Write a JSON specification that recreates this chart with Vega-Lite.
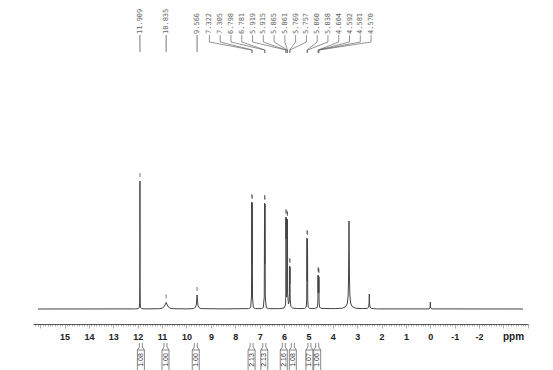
{
  "$schema": "https://vega.github.io/schema/vega-lite/v6.json",
  "width": 495,
  "height": 324,
  "autosize": {"type": "none"},
  "padding": {"left": 33, "right": 25, "top": 0, "bottom": 46},
  "background": "white",
  "config": {"view": {"stroke": null}},
  "datasets": {
    "spec": [
      {"ppm": 16.09, "i": 0}, {"ppm": 12.1, "i": 0.1}, {"ppm": 11.98, "i": 0.4}, {"ppm": 11.94, "i": 1.2},
      {"ppm": 11.922, "i": 5}, {"ppm": 11.914, "i": 25}, {"ppm": 11.909, "i": 128}, {"ppm": 11.904, "i": 25},
      {"ppm": 11.896, "i": 5}, {"ppm": 11.878, "i": 1.2}, {"ppm": 11.84, "i": 0.4}, {"ppm": 11.7, "i": 0.1},
      {"ppm": 11.1, "i": 0.3}, {"ppm": 11.0, "i": 0.8}, {"ppm": 10.93, "i": 2}, {"ppm": 10.88, "i": 4},
      {"ppm": 10.835, "i": 6.5}, {"ppm": 10.79, "i": 4}, {"ppm": 10.74, "i": 2}, {"ppm": 10.67, "i": 0.8},
      {"ppm": 10.55, "i": 0.3}, {"ppm": 10.0, "i": 0.1}, {"ppm": 9.72, "i": 0.4}, {"ppm": 9.64, "i": 1.5},
      {"ppm": 9.6, "i": 4}, {"ppm": 9.58, "i": 9}, {"ppm": 9.566, "i": 14}, {"ppm": 9.552, "i": 9},
      {"ppm": 9.532, "i": 4}, {"ppm": 9.49, "i": 1.5}, {"ppm": 9.41, "i": 0.4}, {"ppm": 8.5, "i": 0.1},
      {"ppm": 7.45, "i": 0.4}, {"ppm": 7.37, "i": 1.5}, {"ppm": 7.335, "i": 12}, {"ppm": 7.322, "i": 107},
      {"ppm": 7.314, "i": 45}, {"ppm": 7.305, "i": 106}, {"ppm": 7.292, "i": 12}, {"ppm": 7.26, "i": 1.5},
      {"ppm": 7.18, "i": 0.4}, {"ppm": 6.93, "i": 0.4}, {"ppm": 6.85, "i": 1.5}, {"ppm": 6.811, "i": 12},
      {"ppm": 6.798, "i": 106}, {"ppm": 6.79, "i": 45}, {"ppm": 6.781, "i": 105}, {"ppm": 6.768, "i": 12},
      {"ppm": 6.73, "i": 1.5}, {"ppm": 6.65, "i": 0.4}, {"ppm": 6.2, "i": 0.3}, {"ppm": 6.0, "i": 1},
      {"ppm": 5.94, "i": 4}, {"ppm": 5.926, "i": 15}, {"ppm": 5.919, "i": 92}, {"ppm": 5.917, "i": 70},
      {"ppm": 5.915, "i": 91}, {"ppm": 5.905, "i": 18}, {"ppm": 5.89, "i": 12}, {"ppm": 5.875, "i": 18},
      {"ppm": 5.865, "i": 90}, {"ppm": 5.863, "i": 70}, {"ppm": 5.861, "i": 89}, {"ppm": 5.851, "i": 15},
      {"ppm": 5.82, "i": 5}, {"ppm": 5.79, "i": 7}, {"ppm": 5.778, "i": 14}, {"ppm": 5.769, "i": 43},
      {"ppm": 5.763, "i": 25}, {"ppm": 5.757, "i": 42}, {"ppm": 5.748, "i": 10}, {"ppm": 5.72, "i": 2.5},
      {"ppm": 5.65, "i": 1}, {"ppm": 5.45, "i": 0.4}, {"ppm": 5.15, "i": 0.6}, {"ppm": 5.09, "i": 2},
      {"ppm": 5.07, "i": 9}, {"ppm": 5.06, "i": 71}, {"ppm": 5.049, "i": 28}, {"ppm": 5.038, "i": 70},
      {"ppm": 5.028, "i": 9}, {"ppm": 5.01, "i": 2}, {"ppm": 4.95, "i": 0.6}, {"ppm": 4.75, "i": 0.5},
      {"ppm": 4.64, "i": 1.5}, {"ppm": 4.612, "i": 6}, {"ppm": 4.604, "i": 34}, {"ppm": 4.598, "i": 16},
      {"ppm": 4.592, "i": 33}, {"ppm": 4.587, "i": 16}, {"ppm": 4.581, "i": 33}, {"ppm": 4.575, "i": 16},
      {"ppm": 4.57, "i": 32}, {"ppm": 4.562, "i": 6}, {"ppm": 4.535, "i": 1.5}, {"ppm": 4.45, "i": 0.5},
      {"ppm": 3.9, "i": 0.4}, {"ppm": 3.6, "i": 0.8}, {"ppm": 3.46, "i": 2.5}, {"ppm": 3.4, "i": 6},
      {"ppm": 3.37, "i": 14}, {"ppm": 3.355, "i": 30}, {"ppm": 3.345, "i": 60}, {"ppm": 3.335, "i": 88},
      {"ppm": 3.325, "i": 60}, {"ppm": 3.315, "i": 30}, {"ppm": 3.3, "i": 14}, {"ppm": 3.27, "i": 6},
      {"ppm": 3.21, "i": 2.5}, {"ppm": 3.07, "i": 0.8}, {"ppm": 2.8, "i": 0.4}, {"ppm": 2.58, "i": 0.6},
      {"ppm": 2.53, "i": 2}, {"ppm": 2.512, "i": 6}, {"ppm": 2.503, "i": 15}, {"ppm": 2.494, "i": 6},
      {"ppm": 2.475, "i": 2}, {"ppm": 2.42, "i": 0.6}, {"ppm": 2.2, "i": 0.1}, {"ppm": 0.06, "i": 0.1},
      {"ppm": 0.015, "i": 1}, {"ppm": 0.004, "i": 4}, {"ppm": 0.0, "i": 7}, {"ppm": -0.004, "i": 4},
      {"ppm": -0.015, "i": 1}, {"ppm": -0.06, "i": 0.1}, {"ppm": -3.8, "i": 0}
    ],
    "peaks": [
      {"ppm": 11.909, "pos": 11.909, "h": 128, "g": "s"},
      {"ppm": 10.835, "pos": 10.835, "h": 6.5, "g": "s"},
      {"ppm": 9.566, "pos": 9.566, "h": 14, "g": "s"},
      {"ppm": 7.322, "pos": 9.06, "h": 107, "g": "m"},
      {"ppm": 7.305, "pos": 8.618, "h": 106, "g": "m"},
      {"ppm": 6.798, "pos": 8.176, "h": 106, "g": "m"},
      {"ppm": 6.781, "pos": 7.734, "h": 105, "g": "m"},
      {"ppm": 5.919, "pos": 7.292, "h": 92, "g": "m"},
      {"ppm": 5.915, "pos": 6.85, "h": 91, "g": "m"},
      {"ppm": 5.865, "pos": 6.408, "h": 90, "g": "m"},
      {"ppm": 5.861, "pos": 5.966, "h": 89, "g": "m"},
      {"ppm": 5.769, "pos": 5.525, "h": 43, "g": "m"},
      {"ppm": 5.757, "pos": 5.083, "h": 42, "g": "m"},
      {"ppm": 5.06, "pos": 4.641, "h": 71, "g": "m"},
      {"ppm": 5.038, "pos": 4.199, "h": 70, "g": "m"},
      {"ppm": 4.604, "pos": 3.757, "h": 34, "g": "m"},
      {"ppm": 4.592, "pos": 3.315, "h": 33, "g": "m"},
      {"ppm": 4.581, "pos": 2.873, "h": 33, "g": "m"},
      {"ppm": 4.57, "pos": 2.431, "h": 32, "g": "m"}
    ],
    "integrals": [
      {"pos": 11.87, "v": "1.08"}, {"pos": 10.86, "v": "1.00"}, {"pos": 9.62, "v": "1.00"},
      {"pos": 7.33, "v": "2.13"}, {"pos": 6.81, "v": "2.13"}, {"pos": 6.01, "v": "2.16"},
      {"pos": 5.64, "v": "1.08"}, {"pos": 4.96, "v": "1.07"}, {"pos": 4.64, "v": "1.06"}
    ]
  },
  "layer": [
    {
      "data": {"name": "spec"},
      "mark": {"type": "line", "color": "#444", "strokeWidth": 1, "interpolate": "linear"},
      "encoding": {
        "x": {
          "field": "ppm", "type": "quantitative", "title": "ppm",
          "scale": {"domain": [-3.8, 16.09], "reverse": true, "nice": false, "zero": false},
          "axis": {
            "title": "ppm", "orient": "bottom", "tickCount": 200, "grid": false,
            "labelExpr": "datum.value == round(datum.value) && datum.value <= 15 && datum.value >= -2 ? '' + datum.value : ''",
            "labelOverlap": false, "labelFlush": false,
            "labelFont": "Liberation Sans", "labelFontWeight": "bold", "labelFontSize": 9, "labelColor": "#222",
            "labelPadding": 4,
            "tickSize": {"condition": {"test": "datum.value == round(datum.value)", "value": 4}, "value": 2},
            "tickColor": "#777", "tickWidth": 0.6, "domainColor": "#555", "domainWidth": 1,
            "titleFont": "Liberation Sans", "titleFontWeight": "bold", "titleFontSize": 10, "titleColor": "#222",
            "titleX": 480, "titleY": 15, "titleAlign": "center", "titleBaseline": "alphabetic"
          }
        },
        "y": {"field": "i", "type": "quantitative", "scale": {"domain": [-15, 309], "nice": false, "zero": false}, "axis": null}
      }
    },
    {
      "data": {"name": "peaks"},
      "mark": {"type": "rule", "color": "#555", "strokeWidth": 0.8, "yOffset": -4, "y2Offset": -8},
      "encoding": {
        "x": {"field": "ppm", "type": "quantitative", "title": "ppm", "scale": {"domain": [-3.8, 16.09], "reverse": true, "nice": false, "zero": false}},
        "y": {"field": "h", "type": "quantitative", "scale": {"domain": [-15, 309], "nice": false, "zero": false}, "axis": null},
        "y2": {"field": "h"}
      }
    },
    {
      "data": {"name": "peaks"},
      "mark": {"type": "text", "angle": 270, "align": "left", "baseline": "middle", "font": "DejaVu Sans Mono", "fontSize": 7, "color": "#666"},
      "encoding": {
        "x": {"field": "pos", "type": "quantitative", "title": "ppm", "scale": {"domain": [-3.8, 16.09], "reverse": true, "nice": false, "zero": false}},
        "y": {"datum": 275, "type": "quantitative", "scale": {"domain": [-15, 309], "nice": false, "zero": false}, "axis": null},
        "text": {"field": "ppm", "type": "quantitative", "format": ".3f"}
      }
    },
    {
      "data": {"name": "peaks"},
      "transform": [{"filter": "datum.g == 's'"}],
      "mark": {"type": "rule", "color": "#555", "strokeWidth": 0.8},
      "encoding": {
        "x": {"field": "ppm", "type": "quantitative", "title": "ppm", "scale": {"domain": [-3.8, 16.09], "reverse": true, "nice": false, "zero": false}},
        "y": {"datum": 274, "type": "quantitative", "scale": {"domain": [-15, 309], "nice": false, "zero": false}, "axis": null},
        "y2": {"datum": 257}
      }
    },
    {
      "data": {"name": "peaks"},
      "transform": [{"filter": "datum.g == 'm'"}],
      "mark": {"type": "rule", "color": "#666", "strokeWidth": 0.7},
      "encoding": {
        "x": {"field": "pos", "type": "quantitative", "title": "ppm", "scale": {"domain": [-3.8, 16.09], "reverse": true, "nice": false, "zero": false}},
        "y": {"datum": 274, "type": "quantitative", "scale": {"domain": [-15, 309], "nice": false, "zero": false}, "axis": null},
        "y2": {"datum": 267}
      }
    },
    {
      "data": {"name": "peaks"},
      "transform": [{"filter": "datum.g == 'm'"}],
      "mark": {"type": "rule", "color": "#666", "strokeWidth": 0.7},
      "encoding": {
        "x": {"field": "pos", "type": "quantitative", "title": "ppm", "scale": {"domain": [-3.8, 16.09], "reverse": true, "nice": false, "zero": false}},
        "x2": {"field": "ppm"},
        "y": {"datum": 267, "type": "quantitative", "scale": {"domain": [-15, 309], "nice": false, "zero": false}, "axis": null},
        "y2": {"datum": 259}
      }
    },
    {
      "data": {"name": "peaks"},
      "transform": [{"filter": "datum.g == 'm'"}],
      "mark": {"type": "rule", "color": "#666", "strokeWidth": 0.7},
      "encoding": {
        "x": {"field": "ppm", "type": "quantitative", "title": "ppm", "scale": {"domain": [-3.8, 16.09], "reverse": true, "nice": false, "zero": false}},
        "y": {"datum": 259, "type": "quantitative", "scale": {"domain": [-15, 309], "nice": false, "zero": false}, "axis": null},
        "y2": {"datum": 256}
      }
    },
    {
      "data": {"name": "integrals"},
      "mark": {"type": "rule", "color": "#555", "strokeWidth": 0.7, "xOffset": -1.5, "x2Offset": -1.5},
      "encoding": {
        "x": {"field": "pos", "type": "quantitative", "title": "ppm", "scale": {"domain": [-3.8, 16.09], "reverse": true, "nice": false, "zero": false}},
        "x2": {"field": "pos"},
        "y": {"datum": -34, "type": "quantitative", "scale": {"domain": [-15, 309], "nice": false, "zero": false}, "axis": null},
        "y2": {"datum": -38}
      }
    },
    {
      "data": {"name": "integrals"},
      "mark": {"type": "rule", "color": "#555", "strokeWidth": 0.7, "xOffset": 1.5, "x2Offset": 1.5},
      "encoding": {
        "x": {"field": "pos", "type": "quantitative", "title": "ppm", "scale": {"domain": [-3.8, 16.09], "reverse": true, "nice": false, "zero": false}},
        "x2": {"field": "pos"},
        "y": {"datum": -34, "type": "quantitative", "scale": {"domain": [-15, 309], "nice": false, "zero": false}, "axis": null},
        "y2": {"datum": -38}
      }
    },
    {
      "data": {"name": "integrals"},
      "mark": {"type": "rule", "color": "#555", "strokeWidth": 0.7, "xOffset": -1.5, "x2Offset": -3.5},
      "encoding": {
        "x": {"field": "pos", "type": "quantitative", "title": "ppm", "scale": {"domain": [-3.8, 16.09], "reverse": true, "nice": false, "zero": false}},
        "x2": {"field": "pos"},
        "y": {"datum": -38, "type": "quantitative", "scale": {"domain": [-15, 309], "nice": false, "zero": false}, "axis": null},
        "y2": {"datum": -41}
      }
    },
    {
      "data": {"name": "integrals"},
      "mark": {"type": "rule", "color": "#555", "strokeWidth": 0.7, "xOffset": 1.5, "x2Offset": 3.5},
      "encoding": {
        "x": {"field": "pos", "type": "quantitative", "title": "ppm", "scale": {"domain": [-3.8, 16.09], "reverse": true, "nice": false, "zero": false}},
        "x2": {"field": "pos"},
        "y": {"datum": -38, "type": "quantitative", "scale": {"domain": [-15, 309], "nice": false, "zero": false}, "axis": null},
        "y2": {"datum": -41}
      }
    },
    {
      "data": {"name": "integrals"},
      "mark": {"type": "bar", "width": 7, "fill": "white", "stroke": "#555", "strokeWidth": 0.7},
      "encoding": {
        "x": {"field": "pos", "type": "quantitative", "title": "ppm", "scale": {"domain": [-3.8, 16.09], "reverse": true, "nice": false, "zero": false}},
        "y": {"datum": -41, "type": "quantitative", "scale": {"domain": [-15, 309], "nice": false, "zero": false}, "axis": null},
        "y2": {"datum": -64}
      }
    },
    {
      "data": {"name": "integrals"},
      "mark": {"type": "text", "angle": 270, "align": "center", "baseline": "middle", "font": "Liberation Sans", "fontSize": 7, "color": "#333"},
      "encoding": {
        "x": {"field": "pos", "type": "quantitative", "title": "ppm", "scale": {"domain": [-3.8, 16.09], "reverse": true, "nice": false, "zero": false}},
        "y": {"datum": -51, "type": "quantitative", "scale": {"domain": [-15, 309], "nice": false, "zero": false}, "axis": null},
        "text": {"field": "v"}
      }
    }
  ]
}
